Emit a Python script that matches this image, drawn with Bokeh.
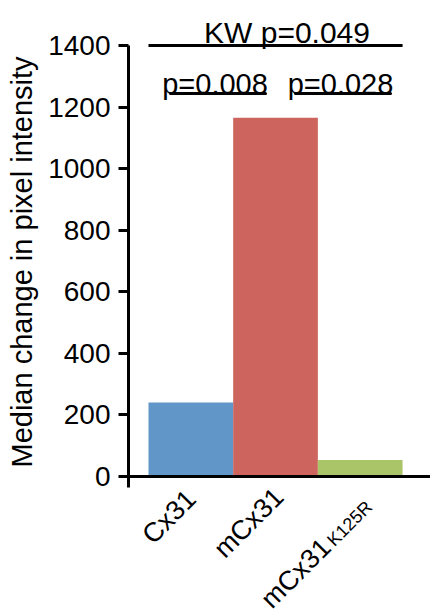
from bokeh.plotting import figure
from bokeh.models import Range1d, FixedTicker, Span, Title
from bokeh.core.properties import value
from bokeh.embed import file_html
from bokeh.resources import INLINE
import math

# ---- data ----
categories = ["Cx31", "mCx31", "mCx31"]
subscripts = ["", "", "K125R"]
medians = [240, 1165, 54]
bar_colors = ["#6196C8", "#CD655E", "#AAC567"]
y_ticks = [0, 200, 400, 600, 800, 1000, 1200, 1400]
kw_text = "KW p=0.049"
pair_texts = ["p=0.008", "p=0.028"]
y_label = "Median change in pixel intensity"

FONT = "Liberation Sans"

# ---- layout (page pixels -> data) ----
W, H = 430, 614
BL = 128
FW, FH = W - BL, H
PXU = 431 / 1400.0          # pixels per data unit on y
X0, X1 = 0.264, 3.83
Yt = 476 / PXU
Yb = -(H - 476) / PXU
AXIS_LOW = -(487 - 476) / PXU

def px_x(page_x):
    return X0 + (page_x - BL) * (X1 - X0) / FW

def px_y(page_y):
    return (476 - page_y) / PXU

def dx(px):
    return px * (X1 - X0) / FW

p = figure(width=W, height=H, output_backend="svg", toolbar_location=None,
           x_range=Range1d(X0, X1), y_range=Range1d(Yb, Yt),
           min_border_left=BL, min_border_right=0, min_border_top=0,
           min_border_bottom=0)
p.outline_line_color = None
p.xgrid.visible = False
p.ygrid.visible = False
p.xaxis.visible = False
p.background_fill_color = "white"
p.border_fill_color = "white"

xs = [i + 1 for i in range(len(categories))]
p.vbar(x=xs, top=medians, bottom=0, width=1.0, fill_color=bar_colors,
       line_color=None)

ya = p.yaxis[0]
ya.ticker = FixedTicker(ticks=y_ticks)
ya.bounds = (AXIS_LOW, max(y_ticks))
ya.axis_line_width = 3
ya.axis_line_color = "black"
ya.major_tick_line_width = 3
ya.major_tick_line_color = "black"
ya.major_tick_out = 10
ya.major_tick_in = 0
ya.minor_tick_line_color = None
ya.major_label_standoff = 8
ya.major_label_text_font = FONT
ya.major_label_text_font_size = "28px"
ya.major_label_text_color = "black"

p.add_layout(Title(text=y_label, align="left", offset=H - 467,
                   vertical_align="top",
                   text_font=FONT, text_font_size="29px",
                   text_font_style="normal", text_color="black",
                   standoff=11), "left")

p.add_layout(Span(location=0, dimension="width", line_color="black",
                  line_width=3))

# x category labels (rotated), drawn below the zero line
label_dx = [0.5, 3.5, -34.0]
label_py = [494, 492, 542.5]
lx = [xs[i] + dx(label_dx[i]) for i in range(len(categories))]
ly = [px_y(label_py[i]) for i in range(len(categories))]
p.text(x=lx, y=ly, text=categories, angle=math.pi / 4, text_align="right",
       text_baseline="middle", text_font=value(FONT), text_font_size="27px",
       text_color="black")
sub_idx = [i for i, s in enumerate(subscripts) if s]
p.text(x=[lx[i] + dx(4.0) for i in sub_idx], y=[ly[i] for i in sub_idx],
       text=[subscripts[i] for i in sub_idx], angle=math.pi / 4,
       text_align="left", text_baseline="middle", text_font=value(FONT),
       text_font_size="18px", text_color="black")

# significance annotations
p.segment(x0=[0.5], y0=[1400], x1=[3.5], y1=[1400], line_color="black",
          line_width=3)
p.text(x=[px_x(286.5)], y=[px_y(32)], text=[kw_text], text_align="center",
       text_baseline="alphabetic", text_font=value(FONT),
       text_font_size="30px", text_color="black")

ul_x0 = [px_x(170), px_x(295)]
ul_x1 = [px_x(265), px_x(390)]
ul_y = px_y(93)
p.segment(x0=ul_x0, y0=[ul_y, ul_y], x1=ul_x1, y1=[ul_y, ul_y],
          line_color="black", line_width=3, line_cap="round")
p.text(x=[px_x(214.5), px_x(340)], y=[px_y(83)] * 2, text=pair_texts,
       text_align="center", text_baseline="alphabetic",
       text_font=value(FONT), text_font_size="29px", text_color="black")

open("out.html", "w").write(file_html(p, INLINE))
